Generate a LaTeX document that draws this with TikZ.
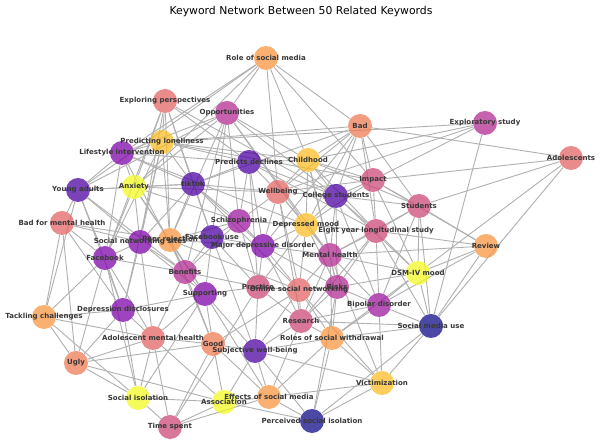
\documentclass[tikz,border=0pt]{standalone}
\usepackage{fontspec}
\setmainfont{DejaVu Sans}
\usepackage{tikz}
\usetikzlibrary{backgrounds}

% plasma-like colours of the keyword groups
\definecolor{kwNavy}{HTML}{0D0887}
\definecolor{kwIndigo}{HTML}{4C02A1}
\definecolor{kwPurple}{HTML}{7E03A8}
\definecolor{kwViolet}{HTML}{9C179E}
\definecolor{kwMagPurple}{HTML}{B12A90}
\definecolor{kwMagenta}{HTML}{CC4778}
\definecolor{kwSalmon}{HTML}{E16462}
\definecolor{kwOrange}{HTML}{ED7953}
\definecolor{kwLightOrange}{HTML}{F89540}
\definecolor{kwGold}{HTML}{FCBD25}
\definecolor{kwYellow}{HTML}{F0F921}

\begin{document}
\begin{tikzpicture}[x=0.025cm, y=-0.025cm,
    kw/.style={circle, draw=none, fill opacity=0.74, minimum size=0.6cm, inner sep=0pt},
    kwtext/.style={font=\fontsize{5}{6}\selectfont\bfseries, text=black!78, inner sep=0pt},
    link/.style={draw=gray!62, line width=0.65pt}]
    \useasboundingbox (0,0) rectangle (600,445);

    % Title
    \node[font=\fontsize{7.7}{9}\selectfont] (title) at (301,12) {Keyword Network Between 50 Related Keywords};

    % Keyword circles
    \node[kw, fill=kwLightOrange] (role) at (266,58) {};
    \node[kw, fill=kwSalmon] (explore) at (165,101) {};
    \node[kw, fill=kwMagPurple] (opp) at (227,113) {};
    \node[kw, fill=kwOrange] (bad) at (360,126) {};
    \node[kw, fill=kwMagPurple] (exstudy) at (485,123) {};
    \node[kw, fill=kwSalmon] (adol) at (571,158) {};
    \node[kw, fill=kwGold] (predlone) at (162,142) {};
    \node[kw, fill=kwPurple] (lifestyle) at (122,153) {};
    \node[kw, fill=kwIndigo] (preddecl) at (249,162) {};
    \node[kw, fill=kwGold] (child) at (308,160) {};
    \node[kw, fill=kwMagenta] (impact) at (373,180) {};
    \node[kw, fill=kwIndigo] (youngad) at (78,190) {};
    \node[kw, fill=kwYellow] (anxiety) at (134,187) {};
    \node[kw, fill=kwIndigo] (tiktok) at (193,184) {};
    \node[kw, fill=kwSalmon] (wellb) at (278,192) {};
    \node[kw, fill=kwIndigo] (college) at (336,196) {};
    \node[kw, fill=kwMagenta] (students) at (419,206) {};
    \node[kw, fill=kwSalmon] (badmh) at (62,223) {};
    \node[kw, fill=kwViolet] (schizo) at (239,221) {};
    \node[kw, fill=kwGold] (depmood) at (306,225) {};
    \node[kw, fill=kwMagenta] (eightyr) at (376,231) {};
    \node[kw, fill=kwLightOrange] (review) at (486,246) {};
    \node[kw, fill=kwPurple] (sns) at (140,242) {};
    \node[kw, fill=kwLightOrange] (peerrej) at (170,240) {};
    \node[kw, fill=kwIndigo] (fbuse) at (212,237) {};
    \node[kw, fill=kwPurple] (mdd) at (263,246) {};
    \node[kw, fill=kwPurple] (facebook) at (105,258) {};
    \node[kw, fill=kwMagPurple] (mentalh) at (330,255) {};
    \node[kw, fill=kwYellow] (dsm) at (418,273) {};
    \node[kw, fill=kwMagPurple] (benefits) at (185,272) {};
    \node[kw, fill=kwMagenta] (practice) at (258,287) {};
    \node[kw, fill=kwSalmon] (osn) at (299,290) {};
    \node[kw, fill=kwMagPurple] (risks) at (337,287) {};
    \node[kw, fill=kwPurple] (supporting) at (205,294) {};
    \node[kw, fill=kwViolet] (bipolar) at (379,305) {};
    \node[kw, fill=kwPurple] (depdisc) at (123,310) {};
    \node[kw, fill=kwLightOrange] (tackling) at (44,317) {};
    \node[kw, fill=kwMagenta] (research) at (301,321) {};
    \node[kw, fill=kwNavy] (smuse) at (431,326) {};
    \node[kw, fill=kwSalmon] (adolmh) at (153,338) {};
    \node[kw, fill=kwLightOrange] (withdraw) at (332,338) {};
    \node[kw, fill=kwOrange] (good) at (213,344) {};
    \node[kw, fill=kwIndigo] (swb) at (255,351) {};
    \node[kw, fill=kwOrange] (ugly) at (76,363) {};
    \node[kw, fill=kwGold] (victim) at (382,383) {};
    \node[kw, fill=kwLightOrange] (effects) at (269,397) {};
    \node[kw, fill=kwYellow] (socialiso) at (138,398) {};
    \node[kw, fill=kwYellow] (assoc) at (224,402) {};
    \node[kw, fill=kwMagenta] (timesp) at (170,427) {};
    \node[kw, fill=kwNavy] (perciso) at (312,421) {};

    % Keyword labels
    \node[kwtext] at (role) {Role of social media};
    \node[kwtext] at (explore) {Exploring perspectives};
    \node[kwtext] at (opp) {Opportunities};
    \node[kwtext] at (bad) {Bad};
    \node[kwtext] at (exstudy) {Exploratory study};
    \node[kwtext] at (adol) {Adolescents};
    \node[kwtext] at (predlone) {Predicting loneliness};
    \node[kwtext] at (lifestyle) {Lifestyle intervention};
    \node[kwtext] at (preddecl) {Predicts declines};
    \node[kwtext] at (child) {Childhood};
    \node[kwtext] at (impact) {Impact};
    \node[kwtext] at (youngad) {Young adults};
    \node[kwtext] at (anxiety) {Anxiety};
    \node[kwtext] at (tiktok) {tiktok};
    \node[kwtext] at (wellb) {Wellbeing};
    \node[kwtext] at (college) {College students};
    \node[kwtext] at (students) {Students};
    \node[kwtext] at (badmh) {Bad for mental health};
    \node[kwtext] at (schizo) {Schizophrenia};
    \node[kwtext] at (depmood) {Depressed mood};
    \node[kwtext] at (eightyr) {Eight year longitudinal study};
    \node[kwtext] at (review) {Review};
    \node[kwtext] at (sns) {Social networking sites};
    \node[kwtext] at (peerrej) {Peer rejection};
    \node[kwtext] at (fbuse) {Facebook use};
    \node[kwtext] at (mdd) {Major depressive disorder};
    \node[kwtext] at (facebook) {Facebook};
    \node[kwtext] at (mentalh) {Mental health};
    \node[kwtext] at (dsm) {DSM-IV mood};
    \node[kwtext] at (benefits) {Benefits};
    \node[kwtext] at (practice) {Practice};
    \node[kwtext] at (osn) {Online social networking};
    \node[kwtext] at (risks) {Risks};
    \node[kwtext] at (supporting) {Supporting};
    \node[kwtext] at (bipolar) {Bipolar disorder};
    \node[kwtext] at (depdisc) {Depression disclosures};
    \node[kwtext] at (tackling) {Tackling challenges};
    \node[kwtext] at (research) {Research};
    \node[kwtext] at (smuse) {Social media use};
    \node[kwtext] at (adolmh) {Adolescent mental health};
    \node[kwtext] at (withdraw) {Roles of social withdrawal};
    \node[kwtext] at (good) {Good};
    \node[kwtext] at (swb) {Subjective well-being};
    \node[kwtext] at (ugly) {Ugly};
    \node[kwtext] at (victim) {Victimization};
    \node[kwtext] at (effects) {Effects of social media};
    \node[kwtext] at (socialiso) {Social isolation};
    \node[kwtext] at (assoc) {Association};
    \node[kwtext] at (timesp) {Time spent};
    \node[kwtext] at (perciso) {Perceived social isolation};

    % Links between keywords, behind the circles
    \begin{scope}[on background layer]
    \foreach \b in {opp,child,bad,impact,youngad,anxiety,lifestyle,wellb} \draw[link] (role) -- (\b);
    \foreach \b in {predlone,anxiety,sns,tiktok,preddecl,fbuse,college,peerrej,facebook} \draw[link] (explore) -- (\b);
    \foreach \b in {lifestyle,youngad,anxiety,fbuse,benefits,child,college,depmood,mentalh,schizo,peerrej} \draw[link] (opp) -- (\b);
    \foreach \b in {child,predlone,wellb,college,impact,students,eightyr,depmood,adol,tiktok,mdd} \draw[link] (bad) -- (\b);
    \foreach \b in {child,impact,smuse,wellb,predlone} \draw[link] (exstudy) -- (\b);
    \foreach \b in {impact,students,dsm,smuse} \draw[link] (adol) -- (\b);
    \foreach \b in {lifestyle,preddecl,child,tiktok,sns,facebook,peerrej,depdisc,impact} \draw[link] (predlone) -- (\b);
    \foreach \b in {youngad,anxiety,tiktok,preddecl,depmood,facebook,benefits} \draw[link] (lifestyle) -- (\b);
    \foreach \b in {child,tiktok,wellb,schizo,college,mdd,practice,eightyr} \draw[link] (preddecl) -- (\b);
    \foreach \b in {wellb,impact,college,students,depmood,eightyr,mentalh,risks} \draw[link] (child) -- (\b);
    \foreach \b in {college,students,eightyr,review,dsm,depmood,wellb} \draw[link] (impact) -- (\b);
    \foreach \b in {anxiety,badmh,sns,facebook,tiktok,benefits,depdisc,tackling} \draw[link] (youngad) -- (\b);
    \foreach \b in {tiktok,sns,peerrej,facebook,schizo,wellb,supporting} \draw[link] (anxiety) -- (\b);
    \foreach \b in {wellb,schizo,fbuse,peerrej,mdd,sns,osn} \draw[link] (tiktok) -- (\b);
    \foreach \b in {college,depmood,schizo,mdd,mentalh,osn,research} \draw[link] (wellb) -- (\b);
    \foreach \b in {depmood,eightyr,students,mentalh,risks,dsm,bipolar} \draw[link] (college) -- (\b);
    \foreach \b in {eightyr,review,dsm,mentalh,bipolar,smuse} \draw[link] (students) -- (\b);
    \foreach \b in {facebook,sns,tackling,ugly,depdisc,peerrej} \draw[link] (badmh) -- (\b);
    \foreach \b in {fbuse,mdd,depmood,benefits,practice,peerrej} \draw[link] (schizo) -- (\b);
    \foreach \b in {eightyr,mdd,mentalh,osn,risks,practice} \draw[link] (depmood) -- (\b);
    \foreach \b in {mentalh,review,dsm,risks,bipolar,smuse,research} \draw[link] (eightyr) -- (\b);
    \foreach \b in {mentalh,dsm,smuse,bipolar} \draw[link] (review) -- (\b);
    \foreach \b in {peerrej,facebook,fbuse,benefits,depdisc,supporting,adolmh} \draw[link] (sns) -- (\b);
    \foreach \b in {fbuse,benefits,mdd,supporting,osn,good} \draw[link] (peerrej) -- (\b);
    \foreach \b in {mdd,benefits,practice,supporting,swb} \draw[link] (fbuse) -- (\b);
    \foreach \b in {mentalh,practice,osn,risks,research} \draw[link] (mdd) -- (\b);
    \foreach \b in {depdisc,tackling,ugly,benefits,adolmh,socialiso} \draw[link] (facebook) -- (\b);
    \foreach \b in {dsm,risks,osn,bipolar,research,withdraw,victim} \draw[link] (mentalh) -- (\b);
    \foreach \b in {bipolar,smuse,risks,withdraw} \draw[link] (dsm) -- (\b);
    \foreach \b in {supporting,practice,adolmh,good} \draw[link] (benefits) -- (\b);
    \foreach \b in {osn,supporting,research,swb,timesp} \draw[link] (practice) -- (\b);
    \foreach \b in {risks,research,withdraw,swb,good,victim} \draw[link] (osn) -- (\b);
    \foreach \b in {bipolar,research,withdraw,perciso} \draw[link] (risks) -- (\b);
    \foreach \b in {depdisc,adolmh,good,swb,socialiso,effects} \draw[link] (supporting) -- (\b);
    \foreach \b in {smuse,withdraw,victim,research} \draw[link] (bipolar) -- (\b);
    \foreach \b in {tackling,adolmh,ugly,socialiso} \draw[link] (depdisc) -- (\b);
    \foreach \b in {ugly,adolmh,socialiso} \draw[link] (tackling) -- (\b);
    \foreach \b in {withdraw,swb,effects,smuse} \draw[link] (research) -- (\b);
    \foreach \b in {withdraw,victim,perciso} \draw[link] (smuse) -- (\b);
    \foreach \b in {good,ugly,socialiso,timesp,assoc} \draw[link] (adolmh) -- (\b);
    \foreach \b in {swb,victim,effects,perciso} \draw[link] (withdraw) -- (\b);
    \foreach \b in {swb,assoc,effects,timesp,ugly} \draw[link] (good) -- (\b);
    \foreach \b in {effects,assoc,perciso,victim} \draw[link] (swb) -- (\b);
    \foreach \b in {socialiso,assoc} \draw[link] (ugly) -- (\b);
    \foreach \b in {effects,perciso} \draw[link] (victim) -- (\b);
    \foreach \b in {assoc,perciso,timesp} \draw[link] (effects) -- (\b);
    \foreach \b in {assoc,timesp} \draw[link] (socialiso) -- (\b);
    \foreach \b in {timesp,perciso} \draw[link] (assoc) -- (\b);
    \end{scope}

\end{tikzpicture}
\end{document}
